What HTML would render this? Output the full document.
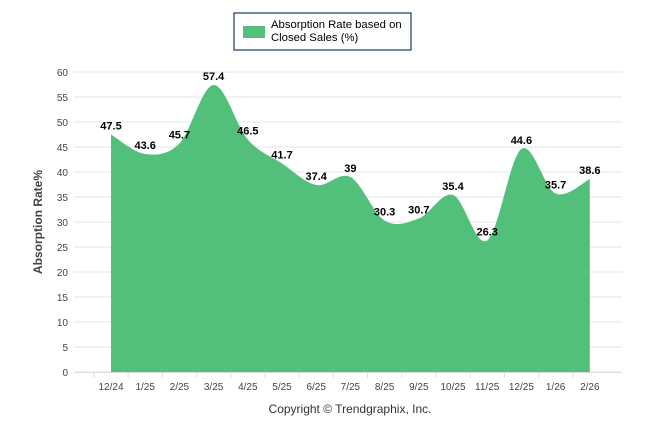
<!DOCTYPE html>
<html><head><meta charset="utf-8"><style>
body{margin:0;background:#fff;width:646px;height:434px;overflow:hidden;font-family:"Liberation Sans",sans-serif}
</style></head><body>
<svg id="c" width="646" height="434">
<rect x="234" y="13" width="177" height="37" fill="#fff" stroke="#1f3864" stroke-width="1.2"/>
<rect x="243" y="26" width="22" height="12" fill="#52c07b"/>
<text x="271" y="28" font-size="11.3" fill="#000">Absorption Rate based on</text>
<text x="271" y="41" font-size="11.3" fill="#000">Closed Sales (%)</text>
<text transform="translate(42,222) rotate(-90)" text-anchor="middle" font-size="12" font-weight="bold" fill="#444">Absorption Rate%</text>
<text x="350" y="413" text-anchor="middle" font-size="12" fill="#333">Copyright © Trendgraphix, Inc.</text>
<g id="g"></g>
</svg>
<script>
const categories=["12/24","1/25","2/25","3/25","4/25","5/25","6/25","7/25","8/25","9/25","10/25","11/25","12/25","1/26","2/26"];
const values=[47.5,43.6,45.7,57.4,46.5,41.7,37.4,39,30.3,30.7,35.4,26.3,44.6,35.7,38.6];
const yTicks=[0,5,10,15,20,25,30,35,40,45,50,55,60];
const NS="http://www.w3.org/2000/svg";
const g=document.getElementById('g');
const y=v=>372-v*5;
const x=i=>111+i*34.2;
function mk(t,a){const e=document.createElementNS(NS,t);for(const k in a)e.setAttribute(k,a[k]);g.appendChild(e);return e;}
yTicks.forEach(t=>{
 const l=mk('line',{x1:74,x2:622,y1:y(t),y2:y(t),stroke:'#e6e6e6'});
 
 
 const tx=mk('text',{x:68,y:y(t)+4,'text-anchor':'end','font-size':10,fill:'#444'});tx.textContent=t;
 
 
});
const P=values.map((v,i)=>[x(i),y(v)]);
let d=`M${P[0][0]},${y(0)}L${P[0][0]},${P[0][1]}`;
for(let i=0;i<P.length-1;i++){
 const p0=P[Math.max(i-1,0)],p1=P[i],p2=P[i+1],p3=P[Math.min(i+2,P.length-1)];
 const k=1/6;
 const c1=[p1[0]+(p2[0]-p0[0])*k,p1[1]+(p2[1]-p0[1])*k];
 const c2=[p2[0]-(p3[0]-p1[0])*k,p2[1]-(p3[1]-p1[1])*k];
 d+=`C${c1[0]},${c1[1]} ${c2[0]},${c2[1]} ${p2[0]},${p2[1]}`;
}
d+=`L${P[P.length-1][0]},${y(0)}Z`;
const area=mk('path',{d:d,fill:'#52c07b'});


mk('line',{x1:74,x2:622,y1:372.5,y2:372.5,stroke:'#ddd'});
categories.forEach((c,i)=>{
 mk('line',{x1:x(i)-17,x2:x(i)-17,y1:373,y2:378,stroke:'#ddd'});
 const t=mk('text',{x:x(i),y:390,'text-anchor':'middle','font-size':10,fill:'#444'});t.textContent=c;
 
 
 const v=mk('text',{x:x(i),y:y(values[i])-5,'text-anchor':'middle','font-size':11,'font-weight':'bold',fill:'#000'});v.textContent=values[i];
 
 
});
</script>
</body></html>
